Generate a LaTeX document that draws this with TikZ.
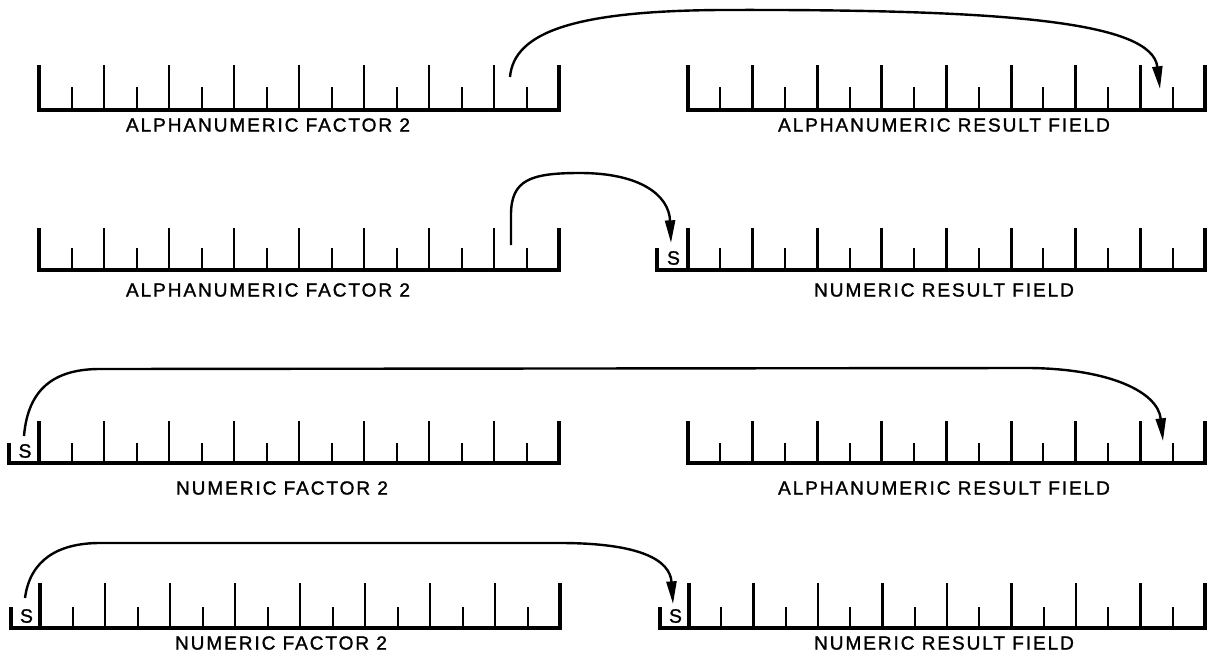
\documentclass[tikz,border=0pt]{standalone}
\usepackage{fontspec}
\setmainfont{Liberation Sans}
\newfontfamily\lettering[LetterSpace=10,FakeBold=1.3]{Liberation Sans}
\usetikzlibrary{arrows.meta}

% field scale: 8 character positions, tall ticks at boundaries, short ticks between
\newcommand\recfield[5]{% #1 left x, #2 right x, #3 baseline y, #4 tall top y, #5 short top y
  \draw[fieldrule] (#1,#4) -- (#1,#3) -- (#2,#3) -- (#2,#4);
  \foreach \k in {1,...,7}
    \draw[talltick] ({#1+\k*(#2-#1)/8},#4) -- ({#1+\k*(#2-#1)/8},#3);
  \foreach \k in {1,...,8}
    \draw[shorttick] ({#1+(\k-0.5)*(#2-#1)/8},#5) -- ({#1+(\k-0.5)*(#2-#1)/8},#3);
}
% sign position in front of a numeric field
\newcommand\signcell[5]{% #1 left x, #2 field left x, #3 baseline y, #4 short top y, #5 node name
  \draw[fieldrule] (#1,#4) -- (#1,#3) -- (#2,#3);
  \node[signmark] (#5) at ({(#1+#2)/2+1},{#3-12}) {S};
}

\begin{document}
\begin{tikzpicture}[x=0.75pt,y=-0.75pt,
  fieldrule/.style={line width=2.4pt,line join=miter},
  talltick/.style={line width=2.2pt},
  shorttick/.style={line width=1.5pt},
  lab/.style={font=\lettering\fontsize{14.3}{16}\selectfont,inner sep=0pt},
  signmark/.style={font=\lettering\fontsize{14.5}{16}\selectfont,inner sep=0pt},
  flow/.style={line width=1.8pt,-{Triangle[length=17pt,width=7.5pt]}}]

\useasboundingbox (0,0) rectangle (1207,657);

% ---- row 1: alphanumeric to alphanumeric
\recfield{39}{559}{110}{65}{87}
\recfield{688}{1205}{110}{65}{87}
\node[lab] (f1) at (268,125) {ALPHANUMERIC FACTOR 2};
\node[lab] (r1) at (944,125) {ALPHANUMERIC RESULT FIELD};
\coordinate (a1s) at (510,77);
\coordinate (a1e) at (1160,89);
\draw[flow] (a1s) .. controls (514,32) and (575,11) .. (720,10)
  .. controls (1010,9) and (1152,22) .. (a1e);

% ---- row 2: alphanumeric to numeric
\recfield{39}{559}{270}{228}{248}
\signcell{657}{688}{270}{248}{s2}
\recfield{688}{1205}{270}{228}{248}
\node[lab] (f2) at (268,290) {ALPHANUMERIC FACTOR 2};
\node[lab] (r2) at (944,290) {NUMERIC RESULT FIELD};
\coordinate (a2s) at (511,245);
\coordinate (a2e) at (671,243);
\draw[flow] (a2s) -- (511,215) .. controls (511,180) and (530,173) .. (580,173)
  .. controls (640,173) and (669,195) .. (a2e);

% ---- row 3: numeric to alphanumeric
\signcell{9}{39}{463}{443}{s3}
\recfield{39}{559}{463}{421}{443}
\recfield{688}{1205}{463}{421}{443}
\node[lab] (f3) at (282,488) {NUMERIC FACTOR 2};
\node[lab] (r3) at (944,488) {ALPHANUMERIC RESULT FIELD};
\coordinate (a3s) at (24,436);
\coordinate (a3e) at (1163,441);
\draw[flow] (a3s) .. controls (28,388) and (55,369) .. (100,369) -- (1030,368)
  .. controls (1110,369) and (1158,392) .. (a3e);

% ---- row 4: numeric to numeric
\signcell{11}{40}{628}{607}{s4}
\recfield{40}{560}{628}{583}{607}
\signcell{660}{689}{628}{607}{s4r}
\recfield{689}{1205}{628}{583}{607}
\node[lab] (f4) at (281,643) {NUMERIC FACTOR 2};
\node[lab] (r4) at (944,643) {NUMERIC RESULT FIELD};
\coordinate (a4s) at (25,598);
\coordinate (a4e) at (673,604);
\draw[flow] (a4s) .. controls (30,560) and (58,543) .. (100,543) -- (560,543)
  .. controls (640,543) and (670,560) .. (a4e);

\end{tikzpicture}
\end{document}
